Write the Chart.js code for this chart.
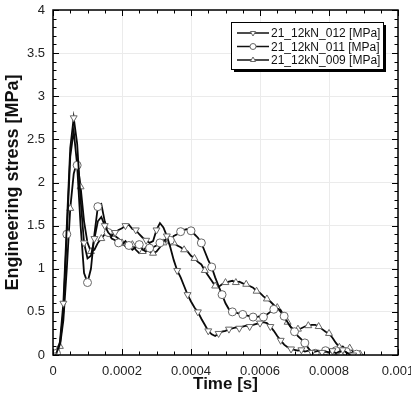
<!DOCTYPE html>
<html>
<head>
<meta charset="utf-8">
<script src="https://cdn.jsdelivr.net/npm/chart.js@4.4.0/dist/chart.umd.min.js"></script>
<style>
  html, body { margin: 0; padding: 0; background: #fff; }
  canvas { display: block; }
</style>
</head>
<body>
<canvas id="stress" width="411" height="400"></canvas>
<script>
// time in microseconds
const timeUs = [0, 10, 20, 30, 40, 50, 60, 70, 80, 90,
  100, 110, 120, 130, 140, 150, 160, 170, 180, 190,
  200, 210, 220, 230, 240, 250, 260, 270, 280, 290,
  300, 310, 320, 330, 340, 350, 360, 370, 380, 390,
  400, 410, 420, 430, 440, 450, 460, 470, 480, 490,
  500, 510, 520, 530, 540, 550, 560, 570, 580, 590,
  600, 610, 620, 630, 640, 650, 660, 670, 680, 690,
  700, 710, 720, 730, 740, 750, 760, 770, 780, 790,
  800, 810, 820, 830, 840, 850, 860, 870, 880, 890, 900];

const s012 = [0, 0.02, 0.15, 0.6, 1.5, 2.4, 2.75, 2.45, 1.8, 1.3,
  1.12, 1.15, 1.35, 1.55, 1.6, 1.5, 1.42, 1.38, 1.42, 1.45,
  1.47, 1.5, 1.51, 1.46, 1.45, 1.4, 1.36, 1.33, 1.3, 1.32,
  1.45, 1.53, 1.48, 1.38, 1.25, 1.1, 0.98, 0.9, 0.8, 0.7,
  0.62, 0.55, 0.5, 0.42, 0.35, 0.28, 0.24, 0.22, 0.25, 0.27,
  0.28, 0.3, 0.31, 0.32, 0.31, 0.33, 0.34, 0.33, 0.35, 0.36,
  0.37, 0.38, 0.37, 0.33, 0.28, 0.22, 0.17, 0.12, 0.09, 0.07,
  0.06, 0.05, 0.06, 0.04, 0.05, 0.03, 0.04, 0.05, 0.03, 0.04,
  0.03, 0.05, 0.02, 0.04, 0.06, 0.03, 0.01, 0, null, null, null];

const s011 = [0, 0.02, 0.12, 0.5, 1.4, 2.3, 2.6, 2.2, 1.5, 0.95,
  0.84, 1.0, 1.4, 1.72, 1.75, 1.55, 1.42, 1.35, 1.33, 1.3,
  1.28, 1.32, 1.27, 1.22, 1.25, 1.28, 1.22, 1.2, 1.24, 1.25,
  1.27, 1.3, 1.32, 1.35, 1.33, 1.38, 1.4, 1.43, 1.45, 1.46,
  1.44, 1.4, 1.36, 1.3, 1.2, 1.1, 1.02, 0.9, 0.8, 0.7,
  0.6, 0.53, 0.5, 0.49, 0.48, 0.47, 0.46, 0.45, 0.44, 0.44,
  0.45, 0.44, 0.47, 0.5, 0.53, 0.54, 0.52, 0.45, 0.38, 0.32,
  0.27, 0.22, 0.18, 0.14, 0.08, 0.03, 0.02, 0.04, 0.03, 0.05,
  0.06, 0.04, 0.05, 0.03, 0.06, 0.04, 0.02, 0.03, 0.01, null, null];

const s009 = [0, 0.02, 0.1, 0.4, 1.0, 1.7, 2.1, 2.25, 1.95, 1.55,
  1.3, 1.2, 1.22, 1.3, 1.35, 1.4, 1.42, 1.4, 1.38, 1.35,
  1.3, 1.26, 1.3, 1.28, 1.22, 1.18, 1.2, 1.25, 1.2, 1.18,
  1.2, 1.25, 1.3, 1.33, 1.28, 1.3, 1.27, 1.25, 1.22, 1.2,
  1.15, 1.12, 1.08, 1.05, 0.98, 0.92, 0.86, 0.8, 0.79, 0.82,
  0.84, 0.85, 0.86, 0.84, 0.85, 0.83, 0.82, 0.8, 0.78, 0.74,
  0.72, 0.68, 0.65, 0.62, 0.58, 0.55, 0.5, 0.44, 0.38, 0.32,
  0.29, 0.3, 0.31, 0.33, 0.34, 0.35, 0.35, 0.33, 0.3, 0.27,
  0.25, 0.2, 0.14, 0.09, 0.1, 0.06, 0.08, 0.04, 0.02, 0.01, 0];

const seriesNames = ['21_12kN_012 [MPa]', '21_12kN_011 [MPa]', '21_12kN_009 [MPa]'];
const xTicks = [0, 0.0002, 0.0004, 0.0006, 0.0008, 0.001];
const yTicks = [0, 0.5, 1, 1.5, 2, 2.5, 3, 3.5, 4];

const FONT = "'Liberation Sans', Arial, sans-serif";

function toPoints(vals) {
  return vals.map((v, i) => ({ x: timeUs[i] / 1e6, y: v }));
}

function makeSet(label, vals, style, rotation, offset) {
  return {
    label: label,
    data: toPoints(vals),
    borderColor: '#0a0a0a',
    borderWidth: 1.8,
    pointStyle: style,
    rotation: rotation,
    pointBackgroundColor: '#fff',
    pointBorderColor: '#666',
    pointBorderWidth: 1,
    pointRadius: ctx => (ctx.dataIndex % 3 === offset ? 4 : 0),
    tension: 0,
    spanGaps: false
  };
}

// inner ticks on all four sides, frame, boxed legend
const framePlugin = {
  id: 'framePlugin',
  afterDraw(chart) {
    const { ctx, chartArea: a, scales: { x, y } } = chart;
    ctx.save();
    ctx.strokeStyle = '#000';
    ctx.lineWidth = 1;
    ctx.beginPath();
    for (let i = 0; i <= 20; i++) {
      const px = Math.round(x.getPixelForValue(i * 0.00005)) + 0.5;
      const len = i % 4 === 0 ? 6 : 3.5;
      ctx.moveTo(px, a.bottom); ctx.lineTo(px, a.bottom - len);
      ctx.moveTo(px, a.top); ctx.lineTo(px, a.top + len);
    }
    for (let i = 0; i <= 40; i++) {
      const py = Math.round(y.getPixelForValue(i * 0.1)) + 0.5;
      const len = i % 5 === 0 ? 6 : 3.5;
      ctx.moveTo(a.left, py); ctx.lineTo(a.left + len, py);
      ctx.moveTo(a.right, py); ctx.lineTo(a.right - len, py);
    }
    ctx.stroke();
    ctx.lineWidth = 1.5;
    ctx.strokeRect(a.left, a.top, a.right - a.left, a.bottom - a.top);

    // legend box
    const bx = 231, by = 22, bw = 152, bh = 47;
    ctx.fillStyle = '#000';
    ctx.fillRect(bx + 3, by + 3, bw, bh);
    ctx.fillStyle = '#fff';
    ctx.fillRect(bx, by, bw, bh);
    ctx.lineWidth = 1;
    ctx.strokeStyle = '#000';
    ctx.strokeRect(bx + 0.5, by + 0.5, bw, bh);

    const styles = ['triangle', 'circle', 'triangle'];
    const rots = [180, 0, 0];
    ctx.font = '12px ' + FONT;
    ctx.textBaseline = 'middle';
    ctx.textAlign = 'left';
    seriesNames.forEach((name, i) => {
      const ly = by + 11 + i * 13.5;
      ctx.strokeStyle = '#111';
      ctx.lineWidth = 1.5;
      ctx.beginPath();
      ctx.moveTo(bx + 6, ly); ctx.lineTo(bx + 38, ly);
      ctx.stroke();
      ctx.fillStyle = '#fff';
      ctx.strokeStyle = '#666';
      ctx.lineWidth = 1;
      Chart.helpers.drawPoint(ctx, { pointStyle: styles[i], rotation: rots[i], radius: 3, borderWidth: 1 }, bx + 22, ly);
      ctx.fillStyle = '#111';
      ctx.fillText(name, bx + 40, ly + 1);
    });
    ctx.restore();
  }
};

const cts = document.getElementById('stress').getContext('2d');
const stressChart = new Chart(cts, {
  type: 'line',
  data: {
    datasets: [
      makeSet(seriesNames[0], s012, 'triangle', 180, 0),
      makeSet(seriesNames[1], s011, 'circle', 0, 1),
      makeSet(seriesNames[2], s009, 'triangle', 0, 2)
    ]
  },
  options: {
    responsive: false,
    animation: false,
    layout: { padding: { top: 10, right: 13, left: 0, bottom: 0 } },
    plugins: {
      legend: { display: false },
      tooltip: { enabled: false }
    },
    scales: {
      x: {
        type: 'linear',
        min: 0,
        max: 0.001,
        afterBuildTicks: s => { s.ticks = xTicks.map(v => ({ value: v })); },
        afterFit: s => { s.height = 45; s.paddingRight = 0; s.paddingLeft = 0; },
        grid: { color: '#ebebeb', lineWidth: 1, drawTicks: false },
        border: { display: false },
        ticks: {
          color: '#222',
          font: { family: FONT, size: 13 },
          padding: 9,
          maxRotation: 0,
          autoSkip: false,
          callback: v => String(Number(v.toFixed(4)))
        },
        title: {
          display: true,
          text: 'Time [s]',
          color: '#111',
          font: { family: FONT, size: 17, weight: 'bold' },
          padding: { top: 0, bottom: 5 }
        }
      },
      y: {
        min: 0,
        max: 4,
        afterBuildTicks: s => { s.ticks = yTicks.map(v => ({ value: v })); },
        afterFit: s => { s.width = 53; s.paddingTop = 0; s.paddingBottom = 0; },
        grid: { color: '#ebebeb', lineWidth: 1, drawTicks: false },
        border: { display: false },
        ticks: {
          color: '#222',
          font: { family: FONT, size: 13 },
          padding: 8,
          callback: v => String(v)
        },
        title: {
          display: true,
          text: 'Engineering stress [MPa]',
          color: '#111',
          font: { family: FONT, size: 18, weight: 'bold' },
          padding: { top: 2, bottom: 0 }
        }
      }
    }
  },
  plugins: [framePlugin]
});
</script>
</body>
</html>
